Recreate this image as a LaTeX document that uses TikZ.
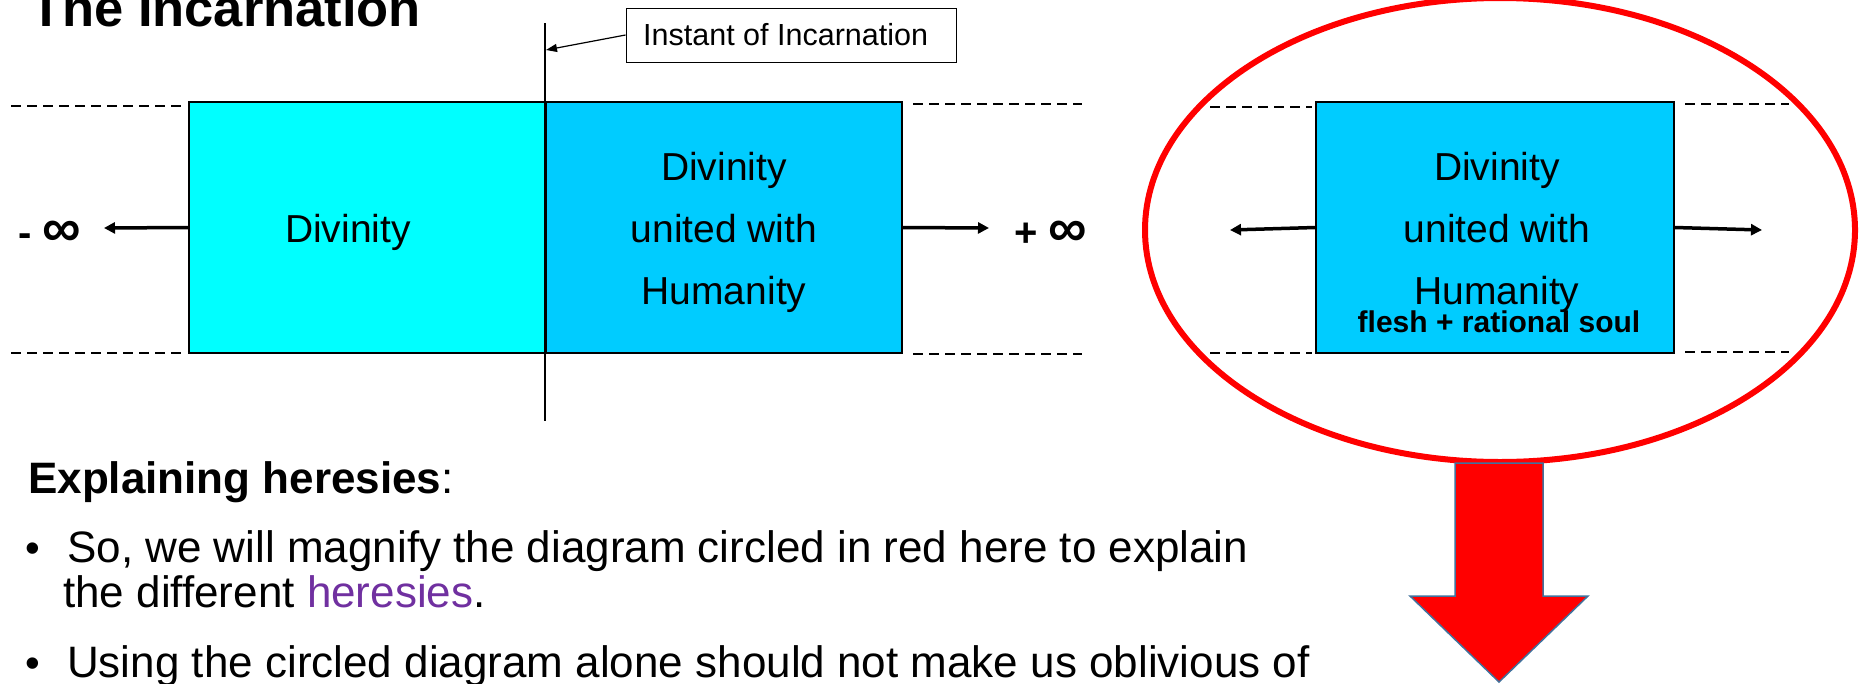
\documentclass[tikz,border=0pt]{standalone}
\usepackage{fontspec}
\setmainfont{Liberation Sans}
\usetikzlibrary{arrows.meta}
\definecolor{cyanA}{RGB}{0,255,255}
\definecolor{skyB}{RGB}{0,204,255}
\definecolor{heresy}{RGB}{112,48,160}
\definecolor{arrowedge}{RGB}{65,113,156}
\newcommand{\myfs}[2]{\fontsize{#1}{#2}\selectfont}
\tikzset{
  period/.style={draw=black, line width=1.5pt, inner sep=0pt, minimum height=251pt},
  boxtext/.style={inner sep=0pt, align=center, font=\myfs{39}{62}},
  dashline/.style={line width=2pt, dash pattern=on 10pt off 6pt},
  timearrow/.style={line width=3.5pt, -{Triangle[length=11pt,width=11pt]}},
  label/.style={inner sep=0pt, anchor=base west},
  bodytext/.style={label, font=\myfs{44}{52}},
  infty/.style={anchor=west, inner sep=0pt, font=\myfs{40}{48}\bfseries},
}
\begin{document}
\begin{tikzpicture}[x=1pt,y=-1pt]
\useasboundingbox (0,0) rectangle (1860,683);
\clip (0,0) rectangle (1860,683);

% title
\node[label, font=\myfs{52.5}{60}\bfseries] (title) at (30,26) {The Incarnation};

% left diagram
\draw[dashline] (11,106) -- (182,106);
\draw[dashline] (11,353) -- (182,353);
\draw[dashline] (913,104) -- (1082,104);
\draw[dashline] (913,354) -- (1082,354);

\node[period, fill=cyanA, minimum width=357pt] (div) at (367.5,227.5) {};
\node[period, fill=skyB, minimum width=356pt] (dh) at (724,227.5) {};
\node[boxtext] (divt) at (348,232) {Divinity};
\node[boxtext] (dht) at (724,232.5) {Divinity\\united with\\Humanity};

\coordinate (vtop) at (545,23);
\coordinate (vbot) at (545,421);
\draw[line width=1.2pt] (vtop) -- (vbot);

\node[draw=black, line width=1pt, inner sep=0pt, minimum width=330pt, minimum height=54pt] (inst) at (791,35) {};
\node[anchor=west, inner sep=0pt, font=\myfs{30.5}{36}] (instt) at (643,35) {Instant of Incarnation};
\coordinate (instpt) at (546,50);
\draw[line width=1.2pt, -{Triangle[length=11pt,width=8pt]}] (inst.west) -- (instpt);

\coordinate (lfree) at (104,228);
\coordinate (rfree) at (989,228);
\draw[timearrow] (div.west) -- (lfree);
\draw[timearrow] (dh.east) -- (rfree);

\node[infty] (minf) at (18,234) {- {\myfs{54}{54}∞}};
\node[infty] (pinf) at (1014,234) {+ {\myfs{54}{54}∞}};

% circled diagram
\draw[dashline] (1210,107) -- (1312,107);
\draw[dashline] (1210,353) -- (1312,353);
\draw[dashline] (1685,104) -- (1789,104);
\draw[dashline] (1685,352) -- (1789,352);

\node[period, fill=skyB, minimum width=358pt] (dh2) at (1495,227.5) {};
\node[boxtext] (dh2t) at (1497,232.5) {Divinity\\united with\\Humanity};
\node[inner sep=0pt, font=\myfs{30}{36}\bfseries] (soul) at (1499,322) {flesh + rational soul};

\coordinate (lfree2) at (1230,230);
\coordinate (rfree2) at (1762,230);
\draw[timearrow] (dh2.west) -- (lfree2);
\draw[timearrow] (dh2.east) -- (rfree2);

\draw[red, line width=6pt] (1500,230) ellipse [x radius=355pt, y radius=232pt];

% big red arrow
\draw[fill=red, draw=arrowedge, line width=1.5pt, line join=miter]
  (1455,463) -- (1543,463) -- (1543,596) -- (1588,596) -- (1499,682) -- (1410,596) -- (1455,596) -- cycle;

% text
\node[label, font=\myfs{44}{52}] (expl) at (28,493) {\textbf{Explaining heresies}:};
\node[bodytext, font=\myfs{42}{48}] (b1) at (25,562) {•};
\node[bodytext] (l1) at (67,562) {So, we will magnify the diagram circled in red here to explain};
\node[bodytext] (l2) at (63,607) {the different \textcolor{heresy}{heresies}.};
\node[bodytext, font=\myfs{42}{48}] (b2) at (25,677) {•};
\node[bodytext] (l3) at (67,677) {Using the circled diagram alone should not make us oblivious of};
\end{tikzpicture}
\end{document}
